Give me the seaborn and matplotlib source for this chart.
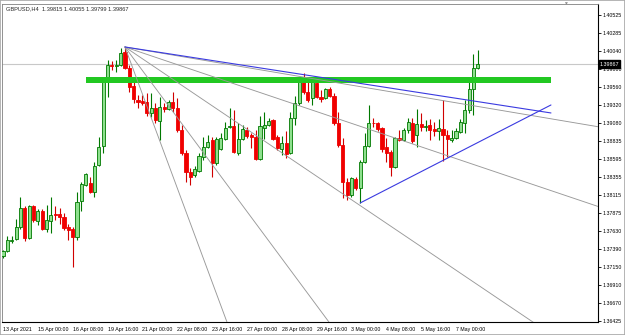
import numpy as np
import pandas as pd
import matplotlib
matplotlib.use("Agg")
import matplotlib.pyplot as plt
import seaborn as sns
from matplotlib.patches import Rectangle

# GBPUSD H4 candles
opens = [1.37296, 1.37363, 1.37497, 1.37523, 1.37684, 1.37939, 1.37537, 1.37966, 1.37765, 1.37899,
         1.37657, 1.37765, 1.37858, 1.37858, 1.37818, 1.37684, 1.37657, 1.37550, 1.38033, 1.38247,
         1.38274, 1.38153, 1.38515, 1.38770, 1.39627, 1.39855, 1.39842, 1.39855, 1.40029, 1.39815,
         1.39574, 1.39386, 1.39373, 1.39359, 1.39212, 1.39279, 1.39105, 1.39292, 1.39265, 1.39359,
         1.39279, 1.38984, 1.38676, 1.38421, 1.38381, 1.38435, 1.38622, 1.38756, 1.38850, 1.38542,
         1.38729, 1.38863, 1.39024, 1.39038, 1.38676, 1.38863, 1.38984, 1.38917, 1.38890, 1.38595,
         1.39011, 1.39051, 1.39118, 1.38890, 1.38729, 1.38810, 1.38676, 1.39145, 1.39346, 1.39641,
         1.39493, 1.39413, 1.39614, 1.39426, 1.39413, 1.39533, 1.39440, 1.39078, 1.38783, 1.38287,
         1.38113, 1.38327, 1.38207, 1.38555, 1.38770, 1.39078, 1.39078, 1.39011, 1.38756, 1.38689,
         1.38488, 1.38877, 1.38850, 1.38984, 1.39078, 1.38917, 1.39064, 1.39024, 1.39051, 1.38997,
         1.38971, 1.38997, 1.38917, 1.38850, 1.38877, 1.38957, 1.39078, 1.39252, 1.39533, 1.39815]
highs = [1.37376, 1.37564, 1.37564, 1.37791, 1.38086, 1.37966, 1.37979, 1.37979, 1.37925, 1.37925,
         1.37979, 1.38086, 1.37966, 1.37939, 1.37872, 1.37724, 1.37684, 1.38153, 1.38287, 1.38408,
         1.38354, 1.38555, 1.38890, 1.39667, 1.39922, 1.39909, 1.39922, 1.40083, 1.40096, 1.39855,
         1.39694, 1.39453, 1.39453, 1.39480, 1.39480, 1.39346, 1.39426, 1.39346, 1.39386, 1.39493,
         1.39413, 1.39051, 1.38716, 1.38475, 1.38502, 1.38676, 1.38890, 1.38917, 1.38890, 1.38890,
         1.38944, 1.39091, 1.39279, 1.39252, 1.39078, 1.39051, 1.39024, 1.38944, 1.38984, 1.39172,
         1.39225, 1.39145, 1.39131, 1.38917, 1.38904, 1.38971, 1.39225, 1.39440, 1.39694, 1.39748,
         1.39654, 1.39681, 1.39654, 1.39520, 1.39547, 1.39560, 1.39480, 1.39225, 1.38877, 1.38341,
         1.38354, 1.38354, 1.38582, 1.38944, 1.39319, 1.39145, 1.39091, 1.39024, 1.38877, 1.38716,
         1.38890, 1.38984, 1.39011, 1.39145, 1.39145, 1.39265, 1.39212, 1.39118, 1.39131, 1.39091,
         1.39131, 1.39386, 1.38984, 1.38984, 1.39011, 1.39131, 1.39386, 1.39654, 1.40002, 1.40055]
lows = [1.37269, 1.37355, 1.37470, 1.37510, 1.37657, 1.37497, 1.37523, 1.37751, 1.37711, 1.37644,
        1.37617, 1.37604, 1.37778, 1.37724, 1.37644, 1.37510, 1.37148, 1.37510, 1.37899, 1.38234,
        1.38140, 1.38086, 1.38502, 1.38676, 1.39426, 1.39788, 1.39761, 1.39842, 1.39801, 1.39493,
        1.39346, 1.39279, 1.39319, 1.39172, 1.39158, 1.39078, 1.38850, 1.39225, 1.39252, 1.39225,
        1.38957, 1.38649, 1.38287, 1.38247, 1.38354, 1.38421, 1.38582, 1.38743, 1.38354, 1.38515,
        1.38716, 1.38850, 1.39011, 1.38676, 1.38649, 1.38850, 1.38877, 1.38743, 1.38582, 1.38582,
        1.38863, 1.39038, 1.38850, 1.38716, 1.38649, 1.38609, 1.38662, 1.39051, 1.39319, 1.39466,
        1.39359, 1.39319, 1.39413, 1.39359, 1.39399, 1.39426, 1.39051, 1.38756, 1.38073, 1.38046,
        1.38086, 1.38180, 1.38006, 1.38542, 1.38756, 1.39024, 1.38971, 1.38689, 1.38555, 1.38368,
        1.38475, 1.38837, 1.38837, 1.38944, 1.38810, 1.38756, 1.38971, 1.38971, 1.38850, 1.38904,
        1.38850, 1.38569, 1.38622, 1.38823, 1.38863, 1.38944, 1.38944, 1.39212, 1.39185, 1.39799]
closes = [1.37363, 1.37510, 1.37510, 1.37684, 1.37939, 1.37537, 1.37966, 1.37778, 1.37899, 1.37657,
          1.37778, 1.37845, 1.37845, 1.37818, 1.37671, 1.37644, 1.37550, 1.38019, 1.38260, 1.38394,
          1.38153, 1.38502, 1.38756, 1.39654, 1.39855, 1.39842, 1.39855, 1.40016, 1.39815, 1.39560,
          1.39399, 1.39359, 1.39346, 1.39212, 1.39279, 1.39118, 1.39292, 1.39265, 1.39359, 1.39279,
          1.38984, 1.38676, 1.38421, 1.38354, 1.38461, 1.38636, 1.38756, 1.38823, 1.38542, 1.38863,
          1.38877, 1.39011, 1.39038, 1.38689, 1.38863, 1.38997, 1.38904, 1.38890, 1.38595, 1.39038,
          1.39051, 1.39105, 1.38863, 1.38743, 1.38810, 1.38662, 1.39145, 1.39346, 1.39667, 1.39493,
          1.39386, 1.39654, 1.39426, 1.39399, 1.39533, 1.39440, 1.39078, 1.38783, 1.38287, 1.38113,
          1.38341, 1.38207, 1.38555, 1.38770, 1.39078, 1.39071, 1.38997, 1.38729, 1.38676, 1.38488,
          1.38877, 1.38850, 1.38984, 1.39091, 1.38837, 1.39064, 1.39024, 1.39038, 1.38984, 1.38971,
          1.39011, 1.38917, 1.38863, 1.38877, 1.38971, 1.39091, 1.39252, 1.39533, 1.39815, 1.39867]

title_text = "GBPUSD,H4  1.39815 1.40055 1.39799 1.39867"
y_ticks = [1.40525, 1.40285, 1.40040, 1.39800, 1.39560, 1.39320, 1.39080, 1.38835, 1.38595,
           1.38355, 1.38115, 1.37875, 1.37630, 1.37390, 1.37150, 1.36910, 1.36670, 1.36425]
x_tick_bars = [0, 8, 16, 24, 32, 40, 48, 56, 64, 72, 80, 88, 96, 104]
x_tick_labels = ["13 Apr 2021", "15 Apr 00:00", "16 Apr 08:00", "19 Apr 16:00", "21 Apr 00:00",
                 "22 Apr 08:00", "23 Apr 16:00", "27 Apr 00:00", "28 Apr 08:00", "29 Apr 16:00",
                 "3 May 00:00", "4 May 08:00", "5 May 16:00", "7 May 00:00"]
last_price = 1.39867

# drawn objects
zone_prices = [1.39620, 1.39690]
zone_bars = [19, 125.8]
gann_origin_bar = 28
gann_ratios = [0.125, 0.25, 0.5, 1, 2]
gann_step = 0.000787          # price per bar of the 1x1 line
resistance_end = (125.8, 1.39212)
support_start_bar = 82
support_end = (125.8, 1.39319)

df = pd.DataFrame({"open": opens, "high": highs, "low": lows, "close": closes})
df["bar"] = np.arange(len(df))
df["bull"] = df["close"] >= df["open"]

sns.set_style("white")
plt.rcParams["font.family"] = ["Liberation Sans", "DejaVu Sans"]

fig = plt.figure(figsize=(6.25, 3.35), dpi=100)
ax = fig.add_axes([2 / 625, 13 / 335, 596 / 625, 318 / 335])

# candles
wick_col = np.where(df["bull"], "#007800", "#D00000")
fill_col = np.where(df["bull"], "#8EE08E", "#F00000")
edge_col = np.where(df["bull"], "#007800", "#F00000")
body_lo = np.minimum(df["open"], df["close"])
body_h = np.maximum((df["close"] - df["open"]).abs(), 0.00003)
ax.vlines(df["bar"], df["low"], df["high"], colors=wick_col, lw=0.8, zorder=2)
ax.bar(df["bar"], body_h, bottom=body_lo, width=0.72, color=fill_col,
       edgecolor=edge_col, linewidth=0.6, zorder=3)

# price line
ax.axhline(last_price, color="#C8C8C8", lw=0.8, zorder=1)

# green zone
ax.fill_between(zone_bars, zone_prices[0], zone_prices[1], color="#22C822", lw=0, zorder=4)

# gann fan from the swing high
origin_price = df["high"][gann_origin_bar]
fan_x = np.array([gann_origin_bar, 140])
fan = pd.DataFrame([{"ratio": r, "bar": x, "price": origin_price - r * gann_step * (x - gann_origin_bar)}
                    for r in gann_ratios for x in fan_x])
sns.lineplot(data=fan, x="bar", y="price", units="ratio", estimator=None,
             color="#999999", lw=0.65, ax=ax, zorder=5)

# trend lines
ax.plot([gann_origin_bar, resistance_end[0]], [origin_price, resistance_end[1]],
        color="#3a3ae0", lw=0.8, zorder=6)
ax.plot([support_start_bar, support_end[0]], [df["low"][support_start_bar], support_end[1]],
        color="#3a3ae0", lw=0.8, zorder=6)

ax.set_xlim(-0.23, 136.6)
ax.set_ylim(1.36411, 1.40672)
ax.set_xlabel("")
ax.set_ylabel("")

ax.yaxis.tick_right()
ax.set_yticks(y_ticks, [f"{v:.5f}" for v in y_ticks])
ax.set_xticks(x_tick_bars, x_tick_labels, ha="left")
ax.tick_params(axis="both", labelsize=3.8, length=2, width=0.6, pad=1.5, color="black",
               labelcolor="black", direction="out")
for s in ["left", "top"]:
    ax.spines[s].set_color("#808080")
    ax.spines[s].set_linewidth(0.6)
for s in ["right", "bottom"]:
    ax.spines[s].set_color("black")
    ax.spines[s].set_linewidth(0.8)

ax.text(0.006, 0.992, title_text, transform=ax.transAxes, fontsize=4.1, va="top", ha="left")
ax.text(1.003, last_price, "1.39867", transform=ax.get_yaxis_transform(), fontsize=3.9,
        color="white", va="center", ha="left", clip_on=False, zorder=10,
        bbox=dict(facecolor="black", edgecolor="black", pad=0.8))
fig.text(565 / 625, 1 - 3 / 335, "\u25bc", fontsize=3.5, color="#909090", ha="center", va="center")

fig.patches.append(Rectangle((0, 0), 1, 1, transform=fig.transFigure, fill=False,
                             edgecolor="#A8A8A8", lw=1.2))
fig.savefig("out.png", dpi=100)
